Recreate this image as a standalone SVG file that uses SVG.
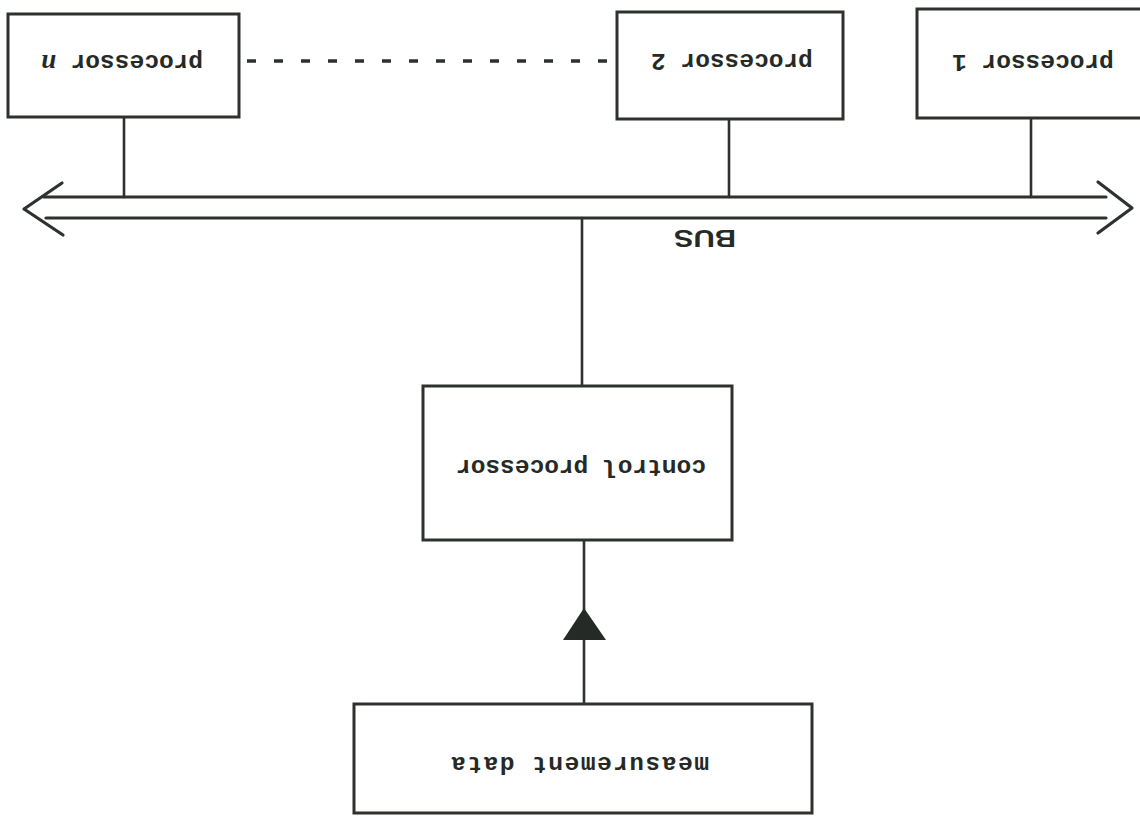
<svg xmlns="http://www.w3.org/2000/svg" width="1140" height="818" viewBox="0 0 1140 818">
  <style>
    .box { fill: #ffffff; stroke: #2e322e; stroke-width: 3; }
    .wire { fill: none; stroke: #2e322e; stroke-width: 2.6; stroke-linecap: round; stroke-linejoin: round; }
    .bus { fill: none; stroke: #2e322e; stroke-width: 3.2; stroke-linecap: round; stroke-linejoin: round; }
    .dots { fill: none; stroke: #2e322e; stroke-width: 3.5; stroke-dasharray: 9 18; }
    .lbl { font-family: "Liberation Mono", "DejaVu Sans Mono", monospace; font-size: 24.5px; font-weight: bold; fill: #262a26; text-anchor: middle; }
    .bus-lbl { font-family: "Liberation Sans", Arial, sans-serif; font-size: 24px; font-weight: bold; fill: #262a26; text-anchor: middle; }
    .it { font-family: "Liberation Serif", serif; font-style: italic; font-size: 27px; }
  </style>
  <rect width="1140" height="818" fill="#ffffff"/>

  <!-- connectors -->
  <g id="connectors">
    <!-- processor drops onto the bus -->
    <line class="wire" x1="124" y1="117" x2="124" y2="197"/>
    <line class="wire" x1="729" y1="119" x2="729" y2="197"/>
    <line class="wire" x1="1031" y1="118" x2="1031" y2="197"/>
    <!-- chain of intermediate processors -->
    <line class="dots" x1="247" y1="61" x2="610" y2="61"/>
    <!-- bus to control processor -->
    <line class="wire" x1="582" y1="218" x2="582" y2="386"/>
    <!-- measurement data into control processor -->
    <line class="wire" x1="584" y1="704" x2="584" y2="540"/>
    <polygon points="584,608 563,640 606,640" fill="#262a26"/>
    <!-- double-headed bus -->
    <g id="bus">
      <line class="bus" x1="44" y1="197" x2="1106" y2="197"/>
      <line class="bus" x1="46" y1="218" x2="1106" y2="218"/>
      <polyline class="bus" points="62,183 24,209 63,235"/>
      <polyline class="bus" points="1098,182 1132,208 1098,233"/>
      <text class="bus-lbl" transform="translate(705,230) rotate(180)" textLength="62" lengthAdjust="spacingAndGlyphs">BUS</text>
    </g>
  </g>

  <g id="processor-n">
    <rect class="box" x="8" y="14" width="231" height="103"/>
    <text class="lbl" transform="translate(122,55) rotate(180)">processor <tspan class="it">n</tspan></text>
  </g>

  <g id="processor-2">
    <rect class="box" x="617" y="12" width="226" height="107"/>
    <text class="lbl" transform="translate(732,54) rotate(180)">processor 2</text>
  </g>

  <g id="processor-1">
    <rect class="box" x="917" y="9" width="226" height="109"/>
    <text class="lbl" transform="translate(1033,55) rotate(180)">processor 1</text>
  </g>

  <g id="control-processor">
    <rect class="box" x="423" y="386" width="309" height="154"/>
    <text class="lbl" transform="translate(581,460) rotate(180)">control processor</text>
  </g>

  <g id="measurement-data">
    <rect class="box" x="354" y="704" width="458" height="109"/>
    <text class="lbl" transform="translate(580,757) rotate(180)" textLength="258">measurement data</text>
  </g>
</svg>
